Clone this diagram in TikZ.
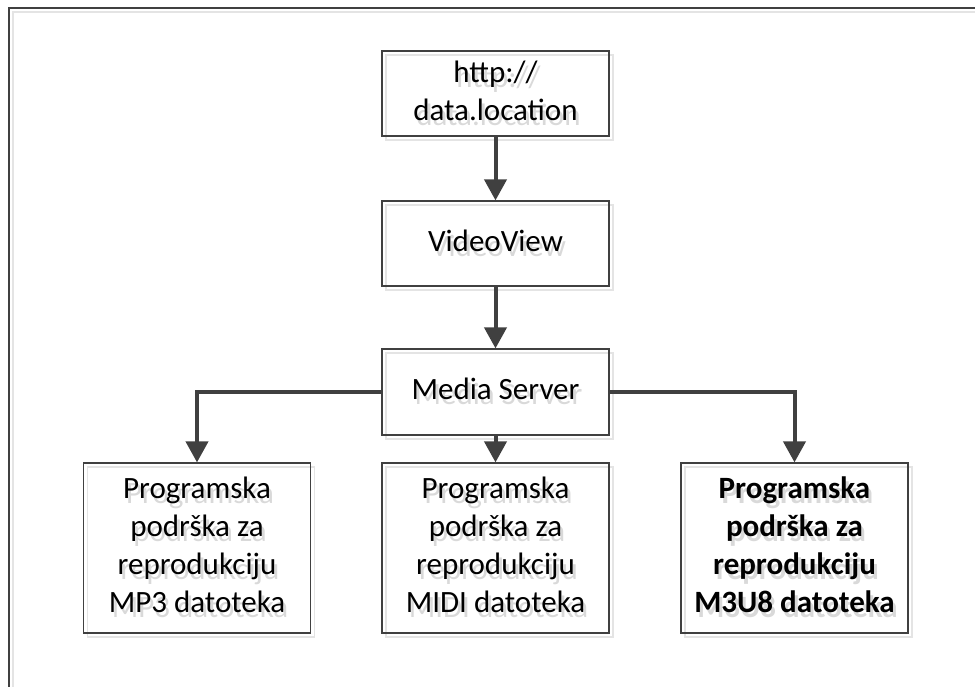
\documentclass[tikz,border=0pt]{standalone}
\usepackage{fontspec}
\setmainfont{Carlito}
\usetikzlibrary{arrows.meta}
\definecolor{linegray}{HTML}{404040}
\definecolor{shadegray}{HTML}{E4E4E4}
\definecolor{txtgray}{HTML}{D9D9D9}
\newcommand\shadowtext[1]{%
  \makebox[0pt][l]{\raisebox{-5pt}[0pt][0pt]{\hspace{3pt}\color{txtgray}\begin{tabular}{@{}c@{}}#1\end{tabular}}}%
  \begin{tabular}{@{}c@{}}#1\end{tabular}}
\begin{document}
\begin{tikzpicture}[x=1pt, y=-1pt,
        font=\fontsize{31}{38}\selectfont,
        shade/.style={preaction={draw=shadegray, line width=1.6pt, transform canvas={shift={(4pt,-4pt)}}}},
        box/.style={shade, draw=linegray, line width=1.2pt, minimum width=227pt, inner sep=0pt},
        boldbox/.style={box, font=\fontsize{31}{38}\selectfont\bfseries},
        flow/.style={draw=linegray, line width=4pt, -{Triangle[width=22pt, length=21pt]}}]
    \useasboundingbox (0,0) rectangle (975,687);
    \draw[shade, draw=linegray, line width=1.5pt] (9,700) |- (990,8);
    % top row
    \node[box, minimum height=85pt] (url) at (495.5,93.5) {\shadowtext{http://\\data.location}};
    \node[box, minimum height=85pt] (video) at (495.5,243.5) {\shadowtext{VideoView}};
    \node[box, minimum height=86pt] (server) at (495.5,392) {\shadowtext{Media Server}};
    % players
    \node[box, minimum height=170pt] (mp3) at (197,548) {\shadowtext{Programska\\podrška za\\reprodukciju\\MP3 datoteka}};
    \node[box, minimum height=170pt] (midi) at (495.5,548) {\shadowtext{Programska\\podrška za\\reprodukciju\\MIDI datoteka}};
    \node[boldbox, minimum height=170pt] (m3u8) at (794.5,548) {\shadowtext{Programska\\podrška za\\reprodukciju\\M3U8 datoteka}};
    \draw[flow] (url) -- (video);
    \draw[flow] (video) -- (server);
    \draw[flow] (server) -- (midi);
    \draw[flow] (server.west) -| (mp3.north);
    \draw[flow] (server.east) -| (m3u8.north);
\end{tikzpicture}
\end{document}
